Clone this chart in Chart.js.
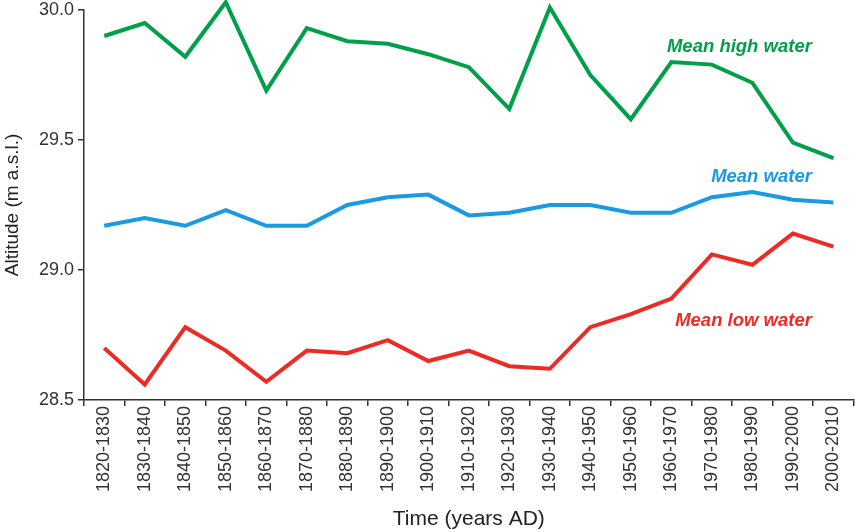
<!DOCTYPE html>
<html>
<head>
<meta charset="utf-8">
<script src="https://cdn.jsdelivr.net/npm/chart.js@4/dist/chart.umd.min.js"></script>
<style>
  html, body { margin: 0; padding: 0; background: #fff; }
  #wrap { width: 855px; height: 532px; position: relative; }
</style>
</head>
<body>
<div id="wrap"><canvas id="waterChart"></canvas></div>
<script>
const periods = [
  "1820-1830", "1830-1840", "1840-1850", "1850-1860", "1860-1870",
  "1870-1880", "1880-1890", "1890-1900", "1900-1910", "1910-1920",
  "1920-1930", "1930-1940", "1940-1950", "1950-1960", "1960-1970",
  "1970-1980", "1980-1990", "1990-2000", "2000-2010",
];
const meanHigh = [
  29.90, 29.95, 29.82, 30.03, 29.69, 29.93, 29.88, 29.87, 29.83, 29.78,
  29.62, 30.01, 29.75, 29.58, 29.80, 29.79, 29.72, 29.49, 29.43,
];
const meanWater = [
  29.17, 29.20, 29.17, 29.23, 29.17, 29.17, 29.25, 29.28, 29.29, 29.21,
  29.22, 29.25, 29.25, 29.22, 29.22, 29.28, 29.30, 29.27, 29.26,
];
const meanLow = [
  28.70, 28.56, 28.78, 28.69, 28.57, 28.69, 28.68, 28.73, 28.65, 28.69,
  28.63, 28.62, 28.78, 28.83, 28.89, 29.06, 29.02, 29.14, 29.09,
];
const yTicks = [28.5, 29.0, 29.5, 30.0];

// series labels: text, colour, anchor value on y axis
const seriesLabels = [
  { text: "Mean high water", color: "#00a04b", y: 29.858 },
  { text: "Mean water", color: "#1a9ae0", y: 29.358 },
  { text: "Mean low water", color: "#ee2a24", y: 28.804 },
];

const FONT = "'Liberation Sans', Arial, sans-serif";
const AXIS = "#333";

const labelPlugin = {
  id: "seriesLabels",
  afterDatasetsDraw(chart) {
    const { ctx, scales } = chart;
    const xr = scales.x.getPixelForValue(17) + 19;
    ctx.save();
    ctx.font = "italic bold 18.5px " + FONT;
    ctx.textAlign = "right";
    ctx.textBaseline = "middle";
    seriesLabels.forEach((l) => {
      ctx.fillStyle = l.color;
      ctx.fillText(l.text, xr, scales.y.getPixelForValue(l.y));
    });
    ctx.restore();
  },
};

function line(label, data, color) {
  return {
    label,
    data,
    borderColor: color,
    backgroundColor: color,
    borderWidth: 4,
    pointRadius: 0,
    tension: 0,
    clip: false,
    borderJoinStyle: "miter",
  };
}

new Chart(document.getElementById("waterChart"), {
  type: "line",
  data: {
    labels: periods,
    datasets: [
      line("Mean high water", meanHigh, "#00a04b"),
      line("Mean water", meanWater, "#1a9ae0"),
      line("Mean low water", meanLow, "#ee2a24"),
    ],
  },
  options: {
    responsive: true,
    maintainAspectRatio: false,
    animation: false,
    layout: { padding: { top: 0, right: 0, left: 0, bottom: 0 } },
    plugins: { legend: { display: false }, tooltip: { enabled: false } },
    scales: {
      x: {
        offset: true,
        grid: { offset: true, drawOnChartArea: false, tickLength: 6, color: AXIS, lineWidth: 1.5 },
        border: { display: true, color: AXIS, width: 1.5 },
        ticks: {
          color: AXIS,
          font: { family: FONT, size: 18 },
          maxRotation: 90,
          minRotation: 90,
          autoSkip: false,
          padding: 0,
        },
        title: {
          display: true,
          text: "Time (years AD)",
          color: "#222",
          font: { family: FONT, size: 21 },
          padding: { top: 0, bottom: 0 },
        },
        afterFit(scale) { scale.height = 132; },
      },
      y: {
        min: 28.5,
        max: 30.0,
        afterBuildTicks(scale) { scale.ticks = yTicks.map((v) => ({ value: v })); },
        grid: { drawOnChartArea: false, tickLength: 6, color: AXIS, lineWidth: 1.5 },
        border: { display: true, color: AXIS, width: 1.5 },
        ticks: {
          color: AXIS,
          font: { family: FONT, size: 18, lineHeight: 1.1 },
          padding: 4,
          callback: (v) => Number(v).toFixed(1),
        },
        title: {
          display: true,
          text: "Altitude (m a.s.l.)",
          color: "#222",
          font: { family: FONT, size: 19 },
          padding: { top: 1, bottom: 0 },
        },
        afterFit(scale) {
          scale.width = 84;
          scale.paddingTop = 10;
        },
      },
    },
  },
  plugins: [labelPlugin],
});
</script>
</body>
</html>
